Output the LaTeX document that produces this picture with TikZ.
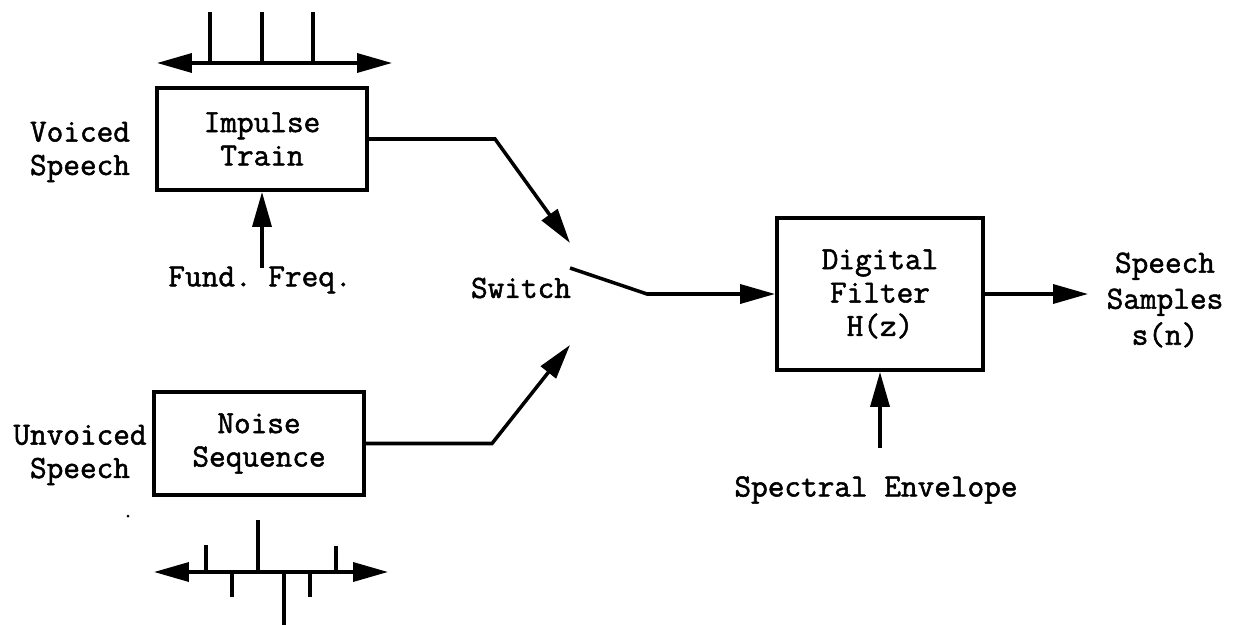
\documentclass[tikz,border=0pt]{standalone}
\usepackage{fontspec}
\setmonofont{Latin Modern Mono}[AutoFakeBold=1.6]
\usetikzlibrary{arrows.meta}
\begin{document}
\begin{tikzpicture}[x=0.02cm,y=-0.02cm,
  every node/.style={font=\fontsize{18.4}{19}\selectfont\ttfamily\bfseries, align=center, inner sep=0pt},
  blk/.style={draw, line width=2.2pt, inner sep=0pt},
  wire/.style={line width=2pt},
  arr/.style={wire, -{Triangle[length=0.7cm,width=0.38cm]}},
  dblarr/.style={wire, {Triangle[length=0.7cm,width=0.38cm]}-{Triangle[length=0.7cm,width=0.38cm]}},
  tick/.style={line width=2pt}]
\useasboundingbox (0,0) rectangle (1237,625);
% blocks
\node[blk, minimum width=4.2cm, minimum height=2.04cm] (imp) at (262,139) {Impulse\\Train};
\node[blk, minimum width=4.2cm, minimum height=2.06cm] (noise) at (259,443.5) {Noise\\Sequence};
\node[blk, minimum width=4.12cm, minimum height=3.04cm] (filt) at (880,294) {Digital\\Filter\\H(z)};
% labels
\node (voiced) at (80,152) {Voiced\\Speech};
\node (unvoiced) at (80,455) {Unvoiced\\Speech};
\node (fund) at (260,280) {Fund. Freq.};
\node (switch) at (521,288) {Switch};
\node (spec) at (876,490) {Spectral Envelope};
\node[font=\fontsize{18.4}{20.5}\selectfont\ttfamily\bfseries] (out) at (1165,300) {Speech\\Samples\\s(n)};
% impulse train signal
\coordinate (itl) at (157,63);
\coordinate (itr) at (392,63);
\draw[dblarr] (itl) -- (itr);
\foreach \x in {210,262,313} \draw[tick] (\x,63) -- (\x,12);
% noise signal
\coordinate (nsl) at (154,572);
\coordinate (nsr) at (388,572);
\draw[dblarr] (nsl) -- (nsr);
\draw[tick] (206,572) -- (206,545);
\draw[tick] (258,572) -- (258,520);
\draw[tick] (232,572) -- (232,597);
\draw[tick] (284,572) -- (284,625);
\draw[tick] (310,572) -- (310,597);
\draw[tick] (336,572) -- (336,546);
% stray dot
\fill (128,516) circle (1.5);
% connectors
\coordinate (ff) at (262,268);
\draw[arr] (ff) -- (imp.south);
\coordinate (sw1) at (570,243);
\coordinate (sw2) at (570,345);
\coordinate (sw0) at (570,268);
\draw[arr] (imp.east) -- (495,139) -- (sw1);
\draw[arr] (noise.east) -- (492,443.5) -- (sw2);
\draw[arr] (sw0) -- (647,294) -- (filt.west);
\coordinate (outtip) at (1088,294);
\draw[arr] (filt.east) -- (outtip);
\coordinate (se) at (880,448);
\draw[arr] (se) -- (filt.south);
\end{tikzpicture}
\end{document}
